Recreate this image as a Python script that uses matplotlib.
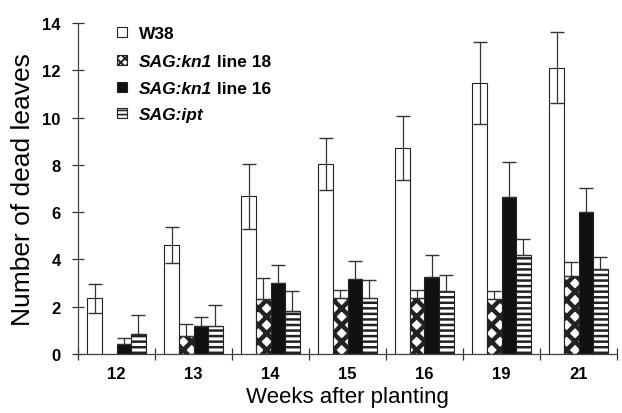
import matplotlib
matplotlib.use("Agg")
import matplotlib.pyplot as plt
from matplotlib.patches import Rectangle
import numpy as np

plt.rcParams['font.family'] = ['Liberation Sans', 'DejaVu Sans']
plt.rcParams['hatch.linewidth'] = 1.8

weeks = ['12', '13', '14', '15', '16', '19', '21']
# legend label pieces: (text, style)
series_labels = [
    [('W38', 'normal')],
    [('SAG:kn1', 'italic'), (' line 18', 'normal')],
    [('SAG:kn1', 'italic'), (' line 16', 'normal')],
    [('SAG:ipt', 'italic')],
]

w38 = [2.35, 4.62, 6.67, 8.02, 8.70, 11.46, 12.11]
w38_err = [0.60, 0.77, 1.37, 1.10, 1.35, 1.75, 1.50]
kn18 = [0.0, 0.75, 2.33, 2.36, 2.36, 2.33, 3.31]
kn18_err = [0.0, 0.50, 0.87, 0.33, 0.33, 0.35, 0.60]
kn16 = [0.42, 1.17, 3.00, 3.17, 3.24, 6.63, 5.99]
kn16_err = [0.25, 0.40, 0.78, 0.77, 0.95, 1.48, 1.05]
ipt = [0.86, 1.17, 1.83, 2.36, 2.68, 4.19, 3.60]
ipt_err = [0.80, 0.90, 0.85, 0.75, 0.67, 0.67, 0.50]

fig = plt.figure(figsize=(6.22, 4.14), dpi=100)
ax = fig.add_axes([78/622, 1-355/414, (617-78)/622, (355-24)/414])

x = np.arange(len(weeks))
bw = 0.19
offsets = [-1.5*bw, -0.5*bw, 0.5*bw, 1.5*bw]
vals = [w38, kn18, kn16, ipt]
errs = [w38_err, kn18_err, kn16_err, ipt_err]
styles = [dict(facecolor='white', hatch=None),
          dict(facecolor='white', hatch='xx'),
          dict(facecolor='#111111', hatch=None),
          dict(facecolor='white', hatch='---')]
hatch_lw = [1.0, 3.2, 1.0, 1.8]
leg_hatch = [None, 'xxxx', None, '----']
leg_hlw = [1.0, 1.4, 1.0, 1.2]


def set_hlw(p, lw):
    if hasattr(p, 'set_hatch_linewidth'):
        p.set_hatch_linewidth(lw)


for i in range(4):
    with plt.rc_context({'hatch.linewidth': hatch_lw[i]}):
        b = ax.bar(x + offsets[i], vals[i], width=bw, edgecolor='#222222',
                   linewidth=0.8, zorder=2, **styles[i])
    for p in b:
        set_hlw(p, hatch_lw[i])
    v = np.array(vals[i])
    e = np.array(errs[i])
    mask = v > 0
    if i == 0:
        yerr = e[mask]
    else:
        yerr = np.vstack([np.zeros(mask.sum()), e[mask]])
    ax.errorbar((x + offsets[i])[mask], v[mask], yerr=yerr,
                fmt='none', ecolor='#333333', elinewidth=0.9, capsize=4.7,
                capthick=1.0, zorder=3)

ax.set_xlim(-0.5, len(weeks) - 0.5)
ax.set_ylim(0, 14)
ax.set_yticks(np.arange(0, 15, 2))
ax.set_yticklabels([str(v) for v in range(0, 15, 2)], fontweight='bold', fontsize=12)
ax.set_xticks(x)
ax.set_xticklabels(weeks, fontweight='bold', fontsize=12)
ax.tick_params(axis='x', which='major', length=0, pad=9)
ax.set_xticks(np.arange(-0.5, len(weeks)), minor=True)
ax.tick_params(axis='x', which='minor', direction='inout', length=8, width=0.9, color='#333333')
ax.tick_params(axis='y', direction='inout', length=9, width=0.9, color='#333333', pad=8)

for s in ['top', 'right']:
    ax.spines[s].set_visible(False)
for s in ['left', 'bottom']:
    ax.spines[s].set_color('#444444')
    ax.spines[s].set_linewidth(0.9)

ax.set_xlabel('Weeks after planting', fontsize=16, labelpad=3)
ax.set_ylabel('Number of dead leaves', fontsize=19, labelpad=5)

# manual legend (mixed bold / bold-italic text)
row_y = [0.973, 0.888, 0.807, 0.728]
hx, hw, hh = 0.072, 0.019, 0.030
tx = 0.113
for i in range(4):
    st_leg = dict(styles[i])
    st_leg['hatch'] = leg_hatch[i]
    with plt.rc_context({'hatch.linewidth': leg_hlw[i]}):
        r = Rectangle((hx, row_y[i] - hh/2), hw, hh, transform=ax.transAxes,
                      edgecolor='#222222', linewidth=0.8, clip_on=False,
                      **st_leg)
    set_hlw(r, leg_hlw[i])
    ax.add_patch(r)
    prev = None
    for txt, st in series_labels[i]:
        if prev is None:
            prev = ax.text(tx, row_y[i], txt, transform=ax.transAxes,
                           fontsize=12.5, fontweight='bold', fontstyle=st,
                           va='center_baseline', ha='left')
        else:
            prev = ax.annotate(txt, xy=(1, 0), xycoords=prev,
                               fontsize=12.5, fontweight='bold', fontstyle=st,
                               va='bottom', ha='left')

fig.savefig('out.png', dpi=100)
